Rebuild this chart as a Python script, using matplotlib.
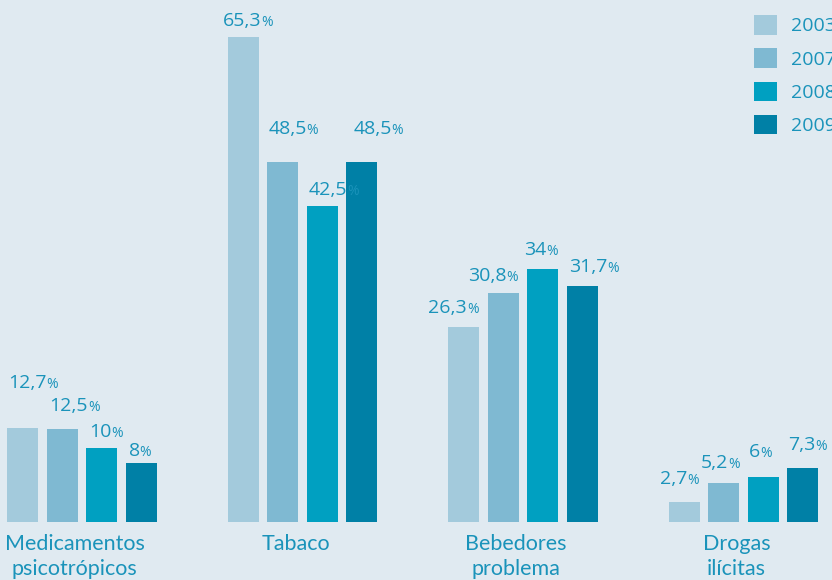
import numpy as np
import matplotlib.pyplot as plt
from matplotlib import font_manager as fm

# data
categorias = ["Medicamentos\npsicotrópicos", "Tabaco", "Bebedores\nproblema", "Drogas\nilícitas"]
anos = ["2003", "2007", "2008", "2009"]
v2003 = [12.7, 65.3, 26.3, 2.7]
v2007 = [12.5, 48.5, 30.8, 5.2]
v2008 = [10.0, 42.5, 34.0, 6.0]
v2009 = [8.0, 48.5, 31.7, 7.3]

# value label offsets (pixels from bar left / bar top), hand placed like the original
lab_dx = [[1, 3, 3, 3], [-5, 1, 2, 7], [-20, -20, -3, 2], [-9, -8, 1, 1]]
lab_dy = [[45, 23, 16, 12], [16, 33, 16, 33], [19, 17, 19, 19], [23, 20, 25, 23]]

cores = ["#a3cadc", "#7fb9d2", "#00a0c1", "#0080a6"]
texto = "#1a93ba"
fundo = "#e0eaf1"


def achar_fonte(nomes):
    for n in nomes:
        try:
            fm.findfont(fm.FontProperties(family=n), fallback_to_default=False)
            return n
        except Exception:
            pass
    return "DejaVu Sans"


fonte_cat = achar_fonte(["Liberation Sans Narrow", "Lato"])
tam_cat = 17.5 if fonte_cat == "Liberation Sans Narrow" else 15.5

fig = plt.figure(figsize=(8.32, 5.8), dpi=100, facecolor=fundo)
ax = fig.add_axes([0, 0, 1, 1])
ax.set_facecolor(fundo)
ax.set_xlim(-0.371, 3.4005)
ax.set_ylim(-(580 - 522) / 7.43, 522 / 7.43)
ax.axis("off")

x = np.arange(len(categorias))
largura = 0.1405
passo = 0.179
series = [v2003, v2007, v2008, v2009]
offs = [-1.5, -0.5, 0.5, 1.5]

for j, vals in enumerate(series):
    barras = ax.bar(x + offs[j] * passo, vals, width=largura, color=cores[j], label=anos[j])
    for i, b in enumerate(barras):
        v = vals[i]
        s = ("%.1f" % v).replace(".", ",")
        if s.endswith(",0"):
            s = s[:-2]
        t = ax.annotate(s, xy=(b.get_x(), b.get_height()), xytext=(lab_dx[i][j], lab_dy[i][j]),
                        textcoords="offset pixels", ha="left", va="center",
                        fontsize=14, color=texto, family=["Open Sans", "DejaVu Sans"])
        ax.annotate("%", xy=(1, 0), xycoords=t, ha="left", va="bottom",
                    fontsize=10, color=texto, family=["Open Sans", "DejaVu Sans"])

for i, c in enumerate(categorias):
    ax.annotate(c, xy=(x[i], 0), xytext=(-7, -12), textcoords="offset pixels",
                ha="center", va="top", fontsize=tam_cat, color=texto,
                linespacing=1.3, family=[fonte_cat, "DejaVu Sans"])

fs = 14 * 100 / 72
fig.legend(loc="upper left", bbox_to_anchor=(754 / 832, 1 - 15 / 580), frameon=False,
           borderpad=0, borderaxespad=0, handlelength=23 / fs, handleheight=23 / fs,
           handletextpad=14 / fs, labelspacing=0.66, labelcolor=texto,
           prop={"family": "Open Sans", "size": 14})

fig.savefig("out.png", dpi=100, facecolor=fundo)
